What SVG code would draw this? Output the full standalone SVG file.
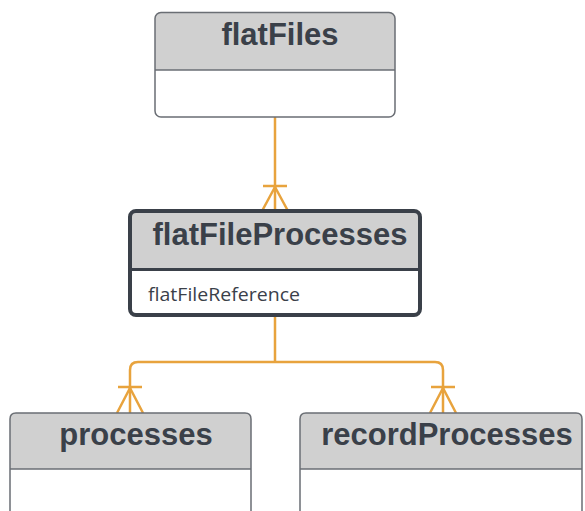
<svg xmlns="http://www.w3.org/2000/svg" width="585" height="511" viewBox="0 0 585 511">
<style>
.hdr{fill:#d0d0d0}
.body{fill:#ffffff}
.frame{fill:none;stroke:#6a6e74;stroke-width:1.5}
.frameB{fill:none;stroke:#3a4049;stroke-width:4}
.div{stroke:#6a6e74;stroke-width:1.5}
.divB{stroke:#3a4049;stroke-width:3}
.title{font-family:"Liberation Sans",Arial,sans-serif;font-weight:bold;font-size:31px;fill:#3a4049;text-anchor:middle}
.attr{font-family:"Open Sans","Noto Sans",sans-serif;font-size:18.5px;fill:#3a4049}
.conn{fill:none;stroke:#e8a33d;stroke-width:2.5}
</style>
<rect width="585" height="511" fill="#ffffff"/>
<g id="connectors">
<path class="conn" d="M275,117 V211"/>
<path class="conn" d="M263,186 H287 M275,187 L262,211 M275,187 L288,211"/>
<path class="conn" d="M275,316 V362 M275,362 H138 Q130,362 130,370 V413 M275,362 H435 Q443,362 443,370 V413"/>
<path class="conn" d="M118,387 H142 M130,388 L117,413 M130,388 L143,413"/>
<path class="conn" d="M431,387 H455 M443,388 L430,413 M443,388 L456,413"/>
</g>
<g id="flatFiles">
<path class="hdr" d="M161,12.5 H389 Q395,12.5 395,18.5 V70 H155 V18.5 Q155,12.5 161,12.5 Z"/>
<rect class="body" x="155" y="70" width="240" height="47"/>
<line class="div" x1="155" y1="70" x2="395" y2="70"/>
<rect class="frame" x="155" y="12.5" width="240" height="104.5" rx="6"/>
<text class="title" x="280" y="45">flatFiles</text>
</g>
<g id="flatFileProcesses">
<path class="hdr" d="M136,211 H414 Q420,211 420,217 V270 H130 V217 Q130,211 136,211 Z"/>
<rect class="body" x="130" y="270" width="290" height="45"/>
<line class="divB" x1="130" y1="269.5" x2="420" y2="269.5"/>
<rect class="frameB" x="130" y="211" width="290" height="104" rx="6"/>
<text class="title" x="280" y="245">flatFileProcesses</text>
<text class="attr" x="148" y="301" textLength="152" lengthAdjust="spacingAndGlyphs">flatFileReference</text>
</g>
<g id="processes">
<path class="hdr" d="M16,413 H245 Q251,413 251,419 V469 H10 V419 Q10,413 16,413 Z"/>
<line class="div" x1="10" y1="469" x2="251" y2="469"/>
<path class="frame" d="M10,515 V419 Q10,413 16,413 H245 Q251,413 251,419 V515"/>
<text class="title" x="136" y="445">processes</text>
</g>
<g id="recordProcesses">
<path class="hdr" d="M306,413 H576 Q582,413 582,419 V469 H300 V419 Q300,413 306,413 Z"/>
<line class="div" x1="300" y1="469" x2="582" y2="469"/>
<path class="frame" d="M300,515 V419 Q300,413 306,413 H576 Q582,413 582,419 V515"/>
<text class="title" x="447" y="445">recordProcesses</text>
</g>
</svg>
